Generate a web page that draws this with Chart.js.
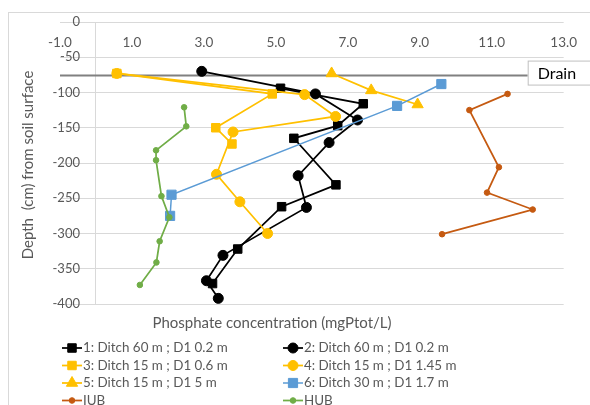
<!DOCTYPE html>
<html>
<head>
<meta charset="utf-8">
<script src="https://cdn.jsdelivr.net/npm/chart.js@4.4.1/dist/chart.umd.min.js"></script>
<style>
  html, body { margin: 0; padding: 0; background: #fff; overflow: hidden; }
  #wrap { position: relative; width: 590px; height: 405px; overflow: hidden; }
  #frame { position: absolute; left: 8px; top: 12px; width: 640px; height: 460px; border: 1px solid #d9d9d9; }
  #chart { position: absolute; left: 0; top: 0; }
</style>
</head>
<body>
<div id="wrap">
  <div id="frame"></div>
  <canvas id="chart" width="590" height="405"></canvas>
</div>
<script>
// phosphate concentration (mgPtot/L) against depth (cm) per profile
const s1Conc  = [5.13, 7.43, 6.72, 5.5, 6.67, 5.16, 3.94, 3.24];
const s1Depth = [-94, -116, -147, -165, -231, -262, -322, -371];
const s2Conc  = [2.94, 6.1, 7.27, 6.48, 5.62, 5.85, 3.53, 3.07, 3.4];
const s2Depth = [-70, -102, -139, -171, -218, -263, -331, -367, -392];
const s3Conc  = [0.58, 4.9, 3.33, 3.78];
const s3Depth = [-73, -102, -150, -173];
const s4Conc  = [0.58, 5.8, 6.66, 3.81, 3.35, 4.0, 4.77];
const s4Depth = [-73, -103, -134, -156, -216, -255, -300];
const s5Conc  = [6.55, 7.65, 8.94];
const s5Depth = [-73, -97, -117];
const s6Conc  = [9.6, 8.37, 2.1, 2.06];
const s6Depth = [-88, -119, -245, -275];
const iubConc  = [11.44, 10.38, 11.2, 10.87, 12.14, 9.62];
const iubDepth = [-102, -125, -206, -242, -266, -301];
const hubConc  = [2.45, 2.51, 1.67, 1.67, 1.82, 2.04, 1.77, 1.68, 1.22];
const hubDepth = [-121, -148, -182, -196, -247, -277, -311, -341, -373];
const drainConc  = [-1, 12];
const drainDepth = [-76, -76];

const seriesNames = [
  '1: Ditch 60 m ; D1 0.2 m', '2: Ditch 60 m ; D1 0.2 m',
  '3: Ditch 15 m ; D1 0.6 m', '4: Ditch 15 m ; D1 1.45 m',
  '5: Ditch 15 m ; D1 5 m', '6: Ditch 30 m ; D1 1.7 m',
  'IUB', 'HUB'
];
const xTitle = 'Phosphate concentration (mgPtot/L)';
const yTitle = 'Depth  (cm) from soil surface';

const FONT = 'Lato, sans-serif';
const GREY = '#595959';
const GOLD = '#FFC000';

function points(xs, ys) {
  return xs.map((v, i) => ({ x: v, y: ys[i] }));
}

function series(i, xs, ys, color, style, radius, width) {
  return {
    label: seriesNames[i],
    data: points(xs, ys),
    showLine: true,
    borderColor: color,
    backgroundColor: color,
    borderWidth: width,
    pointStyle: style,
    pointRadius: radius,
    pointHoverRadius: radius,
    pointBorderWidth: 1,
    order: 10 - i
  };
}

const datasets = [
  series(0, s1Conc, s1Depth, '#000000', 'rect', 6, 1.75),
  series(1, s2Conc, s2Depth, '#000000', 'circle', 5, 1.75),
  series(2, s3Conc, s3Depth, GOLD, 'rect', 6, 1.75),
  series(3, s4Conc, s4Depth, GOLD, 'circle', 5, 1.75),
  series(4, s5Conc, s5Depth, GOLD, 'triangle', 6.5, 1.75),
  series(5, s6Conc, s6Depth, '#5B9BD5', 'rect', 6.5, 1.5),
  series(6, iubConc, iubDepth, '#C55A11', 'circle', 2.8, 1.75),
  series(7, hubConc, hubDepth, '#70AD47', 'circle', 2.8, 1.75),
  {
    label: 'Drain',
    data: points(drainConc, drainDepth),
    showLine: true,
    borderColor: '#808080',
    borderWidth: 2,
    pointRadius: 0,
    order: 100
  }
];
const drainIndex = datasets.length - 1;

function marker(ctx, style, r, x, y) {
  ctx.beginPath();
  if (style === 'rect') {
    const s = r * Math.SQRT1_2;
    ctx.rect(x - s, y - s, 2 * s, 2 * s);
  } else if (style === 'triangle') {
    for (let k = 0; k < 3; k++) {
      const a = k * 2 * Math.PI / 3;
      const px = x + Math.sin(a) * r, py = y - Math.cos(a) * r;
      k ? ctx.lineTo(px, py) : ctx.moveTo(px, py);
    }
    ctx.closePath();
  } else {
    ctx.arc(x, y, r, 0, Math.PI * 2);
  }
  ctx.fill();
  ctx.stroke();
}

const extras = {
  id: 'extras',
  afterDraw(chart) {
    const { ctx, scales: { x, y } } = chart;
    ctx.save();

    // depth labels sit left of the axis line at x = 0
    ctx.font = '13px ' + FONT;
    ctx.fillStyle = GREY;
    ctx.textAlign = 'right';
    ctx.textBaseline = 'middle';
    const axisX = x.getPixelForValue(0);
    y.ticks.forEach(t => ctx.fillText(String(t.value), axisX - 16, y.getPixelForValue(t.value)));

    // axis titles
    ctx.font = '15px ' + FONT;
    ctx.textAlign = 'center';
    ctx.fillText(xTitle, 272, 323);
    ctx.save();
    ctx.translate(28, (y.top + y.bottom) / 2 + 2);
    ctx.rotate(-Math.PI / 2);
    ctx.fillText(yTitle, 0, 0);
    ctx.restore();

    // boxed label at the end of the drain line
    const meta = chart.getDatasetMeta(drainIndex);
    const end = meta.data[meta.data.length - 1];
    ctx.fillStyle = '#ffffff';
    ctx.strokeStyle = '#bfbfbf';
    ctx.lineWidth = 1;
    ctx.fillRect(end.x + 0.5, end.y - 14.5, 80, 24);
    ctx.strokeRect(end.x + 0.5, end.y - 14.5, 80, 24);
    ctx.fillStyle = '#000000';
    ctx.font = '16px ' + FONT;
    ctx.textAlign = 'left';
    ctx.fillText('Drain', end.x + 10, end.y - 2);

    // legend, two columns
    ctx.font = '13.4px ' + FONT;
    datasets.slice(0, drainIndex).forEach((ds, i) => {
      const x0 = i % 2 ? 283 : 62;
      const yc = 348 + Math.floor(i / 2) * 17.5;
      ctx.strokeStyle = ds.borderColor;
      ctx.fillStyle = ds.backgroundColor;
      ctx.lineWidth = ds.borderWidth;
      ctx.beginPath();
      ctx.moveTo(x0, yc);
      ctx.lineTo(x0 + 20, yc);
      ctx.stroke();
      ctx.lineWidth = 1;
      marker(ctx, ds.pointStyle, ds.pointRadius, x0 + 10, yc);
      ctx.fillStyle = GREY;
      ctx.fillText(ds.label, x0 + 21, yc);
    });

    ctx.restore();
  }
};

new Chart(document.getElementById('chart'), {
  type: 'scatter',
  data: { datasets },
  options: {
    responsive: false,
    animation: false,
    events: [],
    layout: { padding: { left: 60, right: 21, top: 22, bottom: 101 } },
    plugins: {
      legend: { display: false },
      tooltip: { enabled: false }
    },
    scales: {
      x: {
        type: 'linear',
        min: -1,
        max: 13,
        position: { y: 0 },
        grid: { display: false, drawTicks: false },
        border: { display: false },
        ticks: {
          stepSize: 2,
          padding: 13,
          color: GREY,
          font: { family: FONT, size: 13.5 },
          callback: v => v.toFixed(1)
        }
      },
      y: {
        type: 'linear',
        min: -400,
        max: 0,
        position: { x: 0 },
        grid: { color: '#d9d9d9', lineWidth: 1, drawTicks: false },
        border: { color: '#d9d9d9', width: 1 },
        ticks: { stepSize: 50, display: false }
      }
    }
  },
  plugins: [extras]
});
</script>
</body>
</html>
